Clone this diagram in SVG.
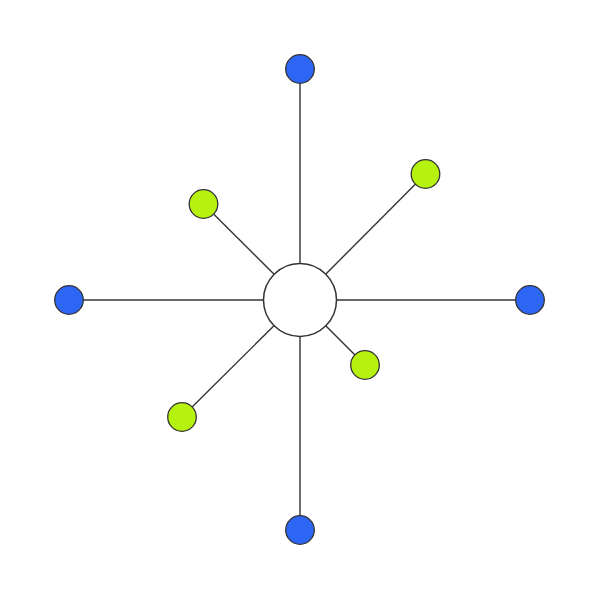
<svg xmlns="http://www.w3.org/2000/svg" width="600" height="600" viewBox="0 0 600 600">
<style>
.edge{stroke:#333;stroke-width:1.4;fill:none}
.hub{fill:#fff;stroke:#333;stroke-width:1.5}
.blue{fill:#2d66f5;stroke:#333;stroke-width:1.3}
.green{fill:#b5f20d;stroke:#333;stroke-width:1.3}
</style>
<rect width="600" height="600" fill="#fff"/>
<g id="connectors">
<line class="edge" x1="300" y1="300" x2="300" y2="69"/>
<line class="edge" x1="300" y1="300" x2="69" y2="300"/>
<line class="edge" x1="300" y1="300" x2="530" y2="300"/>
<line class="edge" x1="300" y1="300" x2="300" y2="530"/>
<line class="edge" x1="300" y1="300" x2="203.5" y2="204"/>
<line class="edge" x1="300" y1="300" x2="425.5" y2="174"/>
<line class="edge" x1="300" y1="300" x2="365" y2="365"/>
<line class="edge" x1="300" y1="300" x2="182" y2="417"/>
</g>
<g id="hub"><circle class="hub" cx="300" cy="300" r="36.5"/></g>
<g id="n-top"><circle class="blue" cx="300" cy="69" r="14.3"/></g>
<g id="n-left"><circle class="blue" cx="69" cy="300" r="14.3"/></g>
<g id="n-right"><circle class="blue" cx="530" cy="300" r="14.3"/></g>
<g id="n-bottom"><circle class="blue" cx="300" cy="530" r="14.3"/></g>
<g id="g-upleft"><circle class="green" cx="203.5" cy="204" r="14.3"/></g>
<g id="g-upright"><circle class="green" cx="425.5" cy="174" r="14.3"/></g>
<g id="g-downright"><circle class="green" cx="365" cy="365" r="14.3"/></g>
<g id="g-downleft"><circle class="green" cx="182" cy="417" r="14.3"/></g>
</svg>
